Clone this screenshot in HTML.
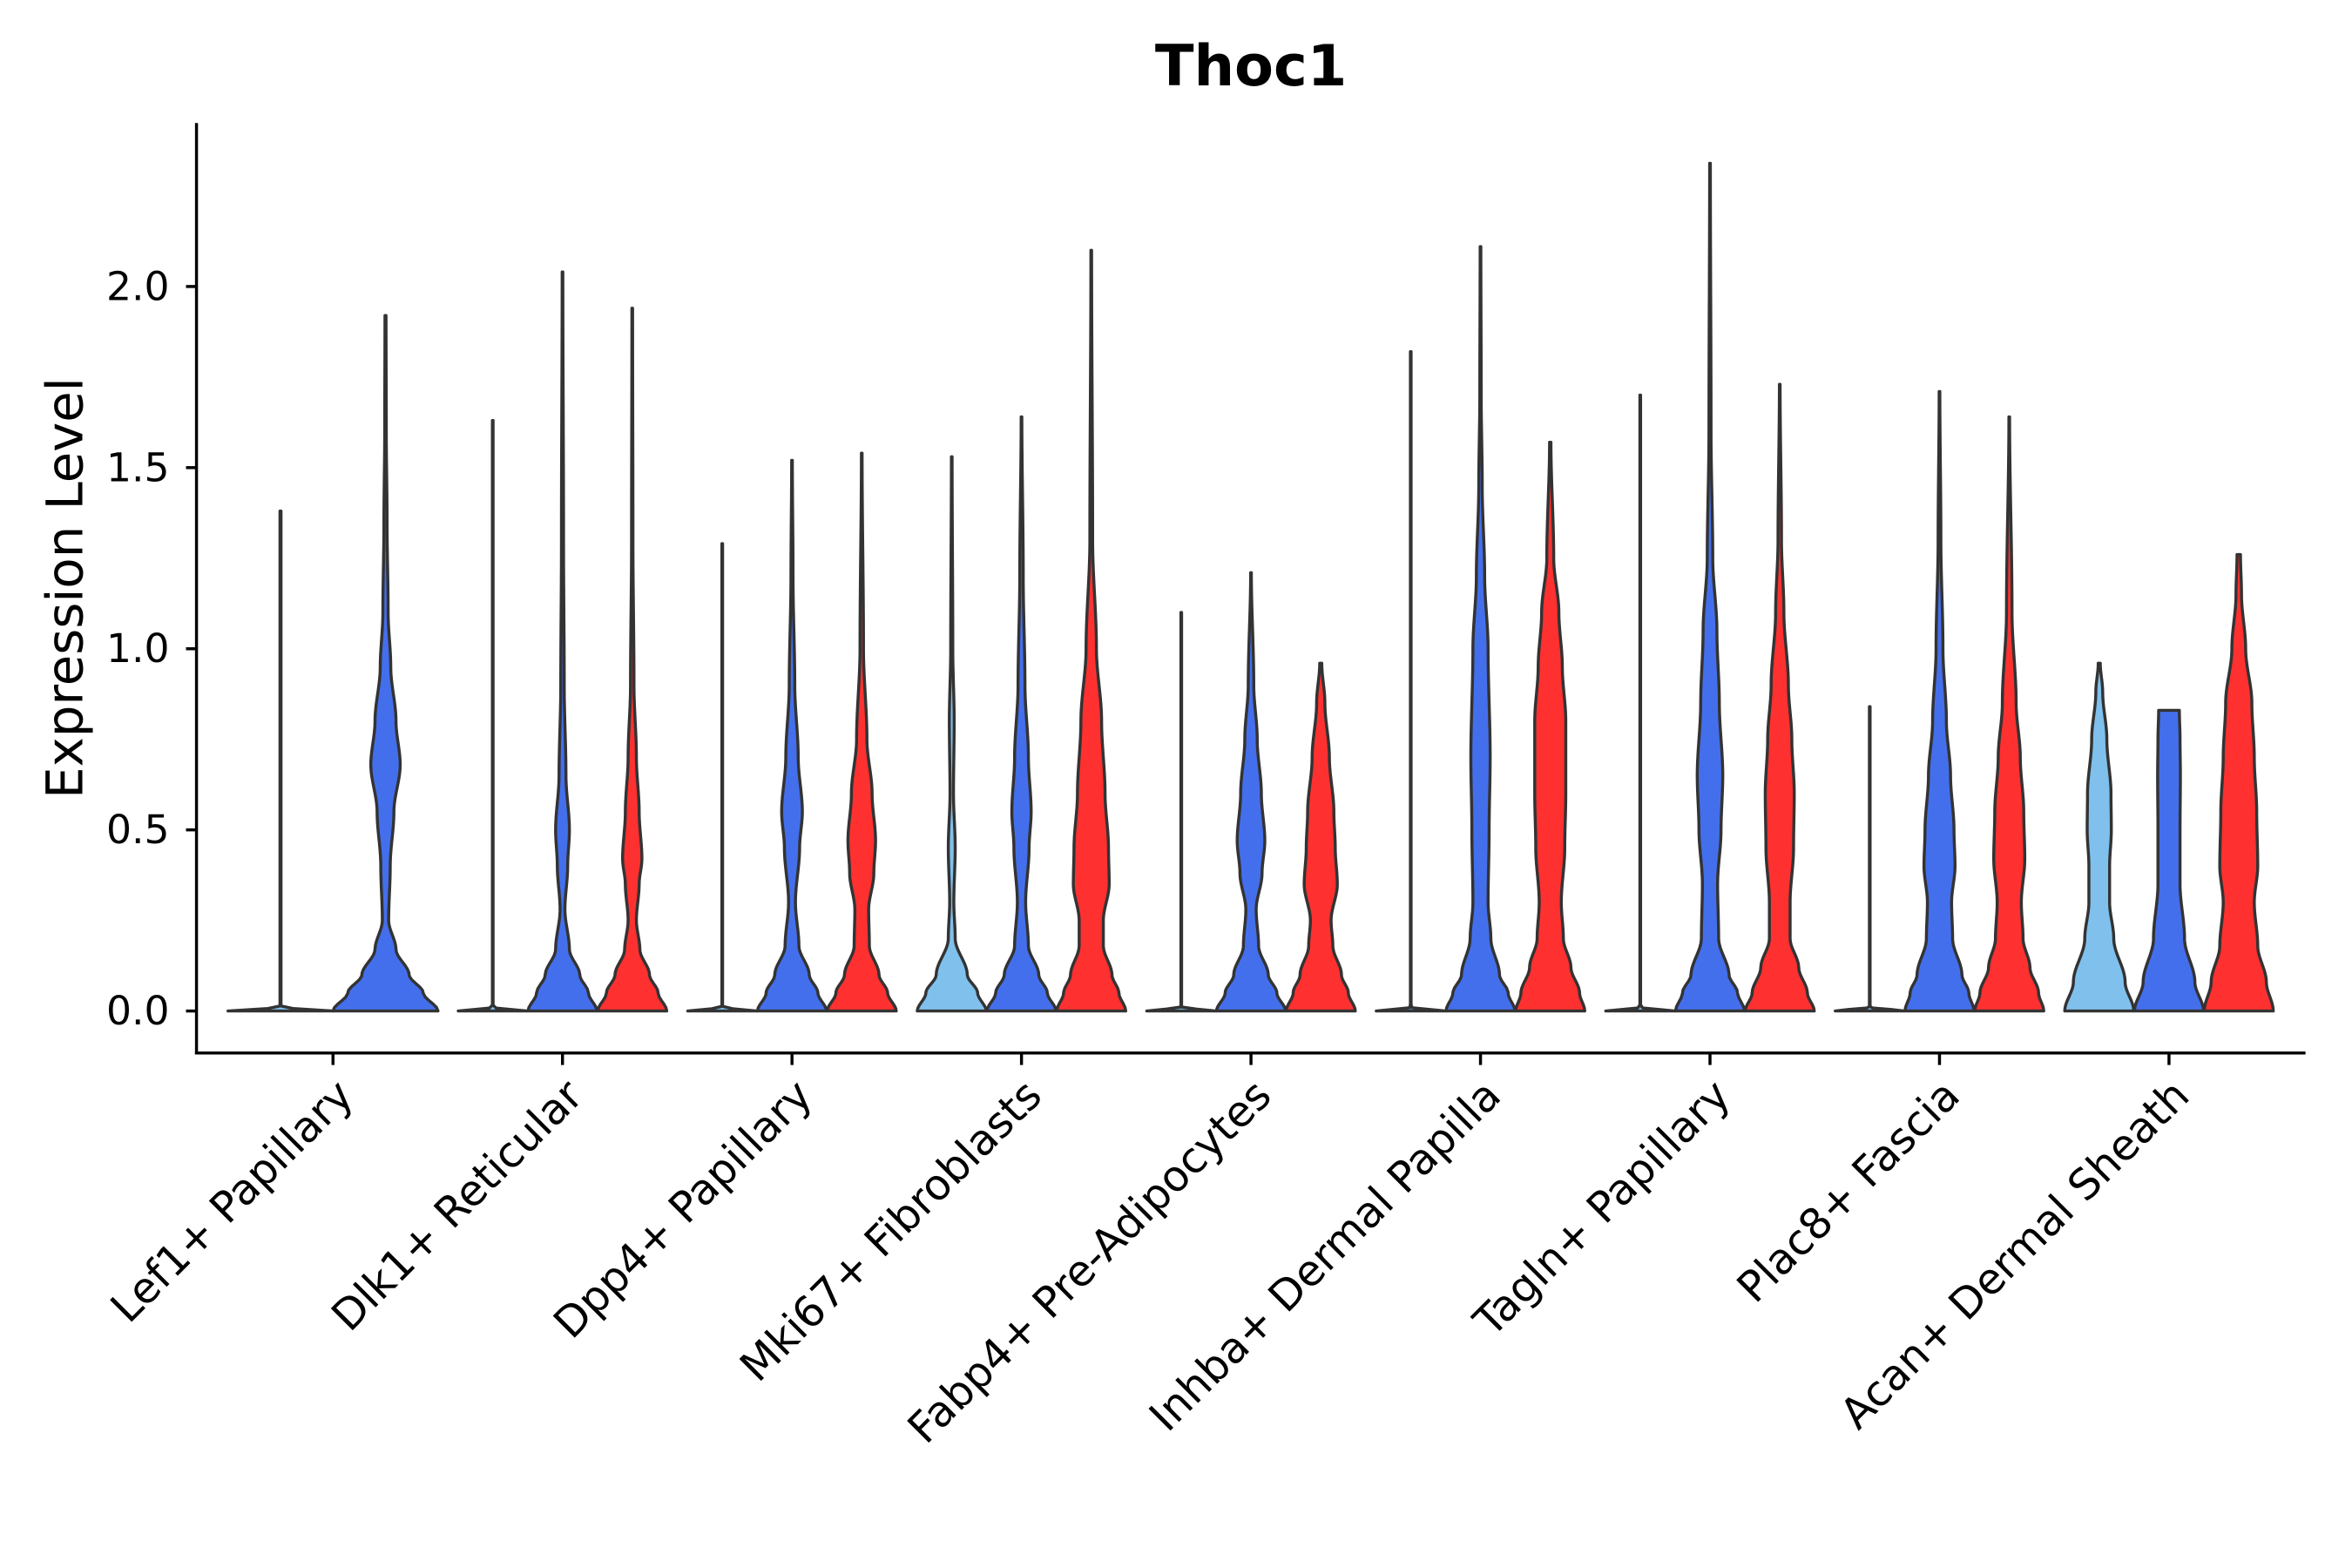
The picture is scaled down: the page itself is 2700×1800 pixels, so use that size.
<!DOCTYPE html>
<html><head><meta charset="utf-8"><style>
html,body{margin:0;padding:0;background:#fff;}
svg{display:block;font-family:"DejaVu Sans","Liberation Sans",sans-serif;}
</style></head><body>
<svg id="chart" width="2700" height="1800" viewBox="0 0 1568 1045.33" xmlns="http://www.w3.org/2000/svg">
<text x="834" y="57" text-anchor="middle" font-size="38" font-weight="bold">Thoc1</text>
<text transform="translate(55,392) rotate(-90)" text-anchor="middle" font-size="33.5">Expression Level</text>
<g id="violins"></g>
<g id="axes"></g>
</svg>
<script>
const categories = ["Lef1+ Papillary","Dlk1+ Reticular","Dpp4+ Papillary","Mki67+ Fibroblasts","Fabp4+ Pre-Adipocytes","Inhba+ Dermal Papilla","Tagln+ Papillary","Plac8+ Fascia","Acan+ Dermal Sheath"];
const yTicks = [0, 0.5, 1.0, 1.5, 2.0];
const yTickLabels = ["0.0","0.5","1.0","1.5","2.0"];
// number of violins per category
const nLevels = [2,3,3,3,3,3,3,3,3];
// each violin: [category index, slot, knots of [value, relative half-width]]
const lightViolins = [
 [0,0,[[0,1],[0.01,0.01],[1.38,0.01]]],
 [1,0,[[0,1],[0.01,0.01],[1.63,0.01]]],
 [2,0,[[0,1],[0.01,0.01],[1.29,0.01]]],
 [3,0,[[0,1],[0.05,0.75],[0.1,0.45],[0.2,0.1],[0.3,0.06],[0.45,0.1],[0.6,0.05],[0.8,0.07],[1.0,0.03],[1.53,0.01]]],
 [4,0,[[0,1],[0.01,0.01],[1.10,0.01]]],
 [5,0,[[0,1],[0.01,0.01],[1.82,0.01]]],
 [6,0,[[0,1],[0.01,0.01],[1.70,0.01]]],
 [7,0,[[0,1],[0.01,0.01],[0.84,0.01]]],
 [8,0,[[0,1],[0.08,0.75],[0.2,0.42],[0.3,0.3],[0.4,0.3],[0.5,0.35],[0.6,0.34],[0.75,0.22],[0.88,0.1],[0.96,0.03]]]
];
const blueViolins = [
 [0,1,[[0,1],[0.05,0.72],[0.1,0.45],[0.17,0.2],[0.25,0.06],[0.4,0.09],[0.55,0.16],[0.68,0.28],[0.8,0.2],[0.95,0.1],[1.1,0.05],[1.35,0.03],[1.6,0.015],[1.92,0.01]]],
 [1,1,[[0,1],[0.05,0.75],[0.1,0.5],[0.17,0.2],[0.28,0.07],[0.4,0.15],[0.5,0.2],[0.65,0.1],[0.9,0.05],[1.3,0.03],[2.04,0.01]]],
 [2,1,[[0,1],[0.05,0.75],[0.1,0.5],[0.18,0.2],[0.3,0.1],[0.45,0.22],[0.55,0.3],[0.7,0.18],[0.9,0.08],[1.2,0.03],[1.52,0.01]]],
 [3,1,[[0,1],[0.05,0.75],[0.1,0.5],[0.18,0.2],[0.3,0.12],[0.45,0.22],[0.55,0.28],[0.7,0.2],[0.9,0.1],[1.2,0.05],[1.64,0.01]]],
 [4,1,[[0,1],[0.05,0.75],[0.1,0.5],[0.18,0.22],[0.28,0.15],[0.38,0.32],[0.47,0.4],[0.6,0.3],[0.75,0.18],[0.9,0.08],[1.21,0.01]]],
 [5,1,[[0,1],[0.05,0.8],[0.1,0.55],[0.2,0.3],[0.3,0.22],[0.5,0.25],[0.7,0.28],[1.0,0.22],[1.2,0.12],[1.45,0.05],[1.7,0.02],[2.11,0.01]]],
 [6,1,[[0,1],[0.05,0.8],[0.1,0.55],[0.2,0.25],[0.35,0.22],[0.5,0.32],[0.65,0.37],[0.85,0.27],[1.05,0.2],[1.25,0.08],[1.6,0.03],[2.34,0.01]]],
 [7,1,[[0,1],[0.05,0.85],[0.1,0.65],[0.2,0.38],[0.3,0.35],[0.4,0.45],[0.5,0.42],[0.65,0.32],[0.8,0.2],[1.0,0.1],[1.3,0.04],[1.71,0.01]]],
 [8,1,[[0,1],[0.08,0.75],[0.2,0.45],[0.35,0.32],[0.5,0.32],[0.65,0.33],[0.75,0.32],[0.83,0.3]]]
];
const redViolins = [
 [1,2,[[0,1],[0.05,0.75],[0.1,0.5],[0.17,0.22],[0.25,0.12],[0.35,0.2],[0.42,0.28],[0.55,0.2],[0.7,0.12],[0.9,0.05],[1.3,0.02],[1.94,0.01]]],
 [2,2,[[0,1],[0.05,0.75],[0.1,0.5],[0.18,0.22],[0.28,0.2],[0.38,0.35],[0.47,0.4],[0.6,0.3],[0.75,0.15],[1.0,0.05],[1.54,0.01]]],
 [3,2,[[0,1],[0.05,0.8],[0.1,0.6],[0.18,0.35],[0.25,0.35],[0.35,0.52],[0.45,0.5],[0.6,0.4],[0.8,0.3],[1.0,0.15],[1.3,0.04],[2.10,0.01]]],
 [4,2,[[0,1],[0.05,0.8],[0.1,0.6],[0.18,0.35],[0.25,0.3],[0.35,0.48],[0.45,0.42],[0.55,0.38],[0.7,0.25],[0.85,0.12],[0.96,0.03]]],
 [5,2,[[0,1],[0.05,0.85],[0.12,0.6],[0.2,0.38],[0.3,0.32],[0.45,0.42],[0.6,0.45],[0.8,0.45],[0.95,0.35],[1.1,0.25],[1.25,0.1],[1.57,0.02]]],
 [6,2,[[0,1],[0.05,0.8],[0.12,0.55],[0.2,0.3],[0.3,0.3],[0.45,0.4],[0.6,0.42],[0.75,0.35],[0.9,0.25],[1.1,0.12],[1.3,0.05],[1.73,0.01]]],
 [7,2,[[0,1],[0.05,0.85],[0.12,0.6],[0.2,0.4],[0.3,0.35],[0.42,0.45],[0.55,0.42],[0.7,0.32],[0.85,0.2],[1.1,0.08],[1.64,0.01]]],
 [8,2,[[0,1],[0.08,0.8],[0.18,0.55],[0.3,0.45],[0.4,0.55],[0.55,0.52],[0.7,0.45],[0.85,0.38],[1.0,0.2],[1.15,0.08],[1.26,0.05]]]
];
const fills = {light:"#80C0ED", blue:"#446FEC", red:"#FF3030"};

const NS = "http://www.w3.org/2000/svg";
const X0 = 222, DX = 153, Y0 = 674, YPU = 241.5;
const xCat = i => X0 + i * DX;
const yVal = v => Y0 - v * YPU;
function slotGeom(ci, slot){
  const n = nLevels[ci];
  if (n === 2) return {cx: xCat(ci) + (slot === 0 ? -35 : 35), hw: 35};
  return {cx: xCat(ci) + (slot - 1) * 46.5, hw: 23};
}
function widthAt(knots, v){
  for (let k = 0; k < knots.length - 1; k++){
    const a = knots[k], b = knots[k+1];
    if (v >= a[0] && v <= b[0]){
      const t = (v - a[0]) / (b[0] - a[0] || 1);
      const s = t * t * (3 - 2 * t);
      return a[1] + (b[1] - a[1]) * s;
    }
  }
  return knots[knots.length-1][1];
}
const vg = document.getElementById('violins');
function drawViolin(rec, key){
  const ci = rec[0], slot = rec[1], knots = rec[2];
  const g = slotGeom(ci, slot);
  const vmax = knots[knots.length-1][0];
  const N = 200, right = [], left = [];
  for (let s = 0; s <= N; s++){
    const v = vmax * s / N;
    const w = widthAt(knots, v) * g.hw;
    right.push([g.cx + w, yVal(v)]);
    left.push([g.cx - w, yVal(v)]);
  }
  let d = "M" + left[0][0].toFixed(2) + "," + left[0][1].toFixed(2);
  right.forEach(p => d += "L" + p[0].toFixed(2) + "," + p[1].toFixed(2));
  left.slice().reverse().forEach(p => d += "L" + p[0].toFixed(2) + "," + p[1].toFixed(2));
  d += "Z";
  const p = document.createElementNS(NS, 'path');
  p.setAttribute('d', d);
  p.setAttribute('fill', fills[key]);
  p.setAttribute('stroke', '#333');
  p.setAttribute('stroke-width', '2');
  p.setAttribute('stroke-linejoin', 'round');
  
  
  vg.appendChild(p);
}
lightViolins.forEach(r => drawViolin(r, 'light'));
blueViolins.forEach(r => drawViolin(r, 'blue'));
redViolins.forEach(r => drawViolin(r, 'red'));

const ag = document.getElementById('axes');
function line(x1,y1,x2,y2,name){
  const l = document.createElementNS(NS,'line');
  l.setAttribute('x1',x1);l.setAttribute('y1',y1);l.setAttribute('x2',x2);l.setAttribute('y2',y2);
  l.setAttribute('stroke','#000');l.setAttribute('stroke-width','2');
  
  
  ag.appendChild(l);
}
line(131,82,131,703,'y-axis-line');
line(130,702,1537,702,'x-axis-line');
yTicks.forEach((v,i) => {
  line(124, yVal(v), 131, yVal(v), 'y-tick');
  const t = document.createElementNS(NS,'text');
  t.setAttribute('x', 113); t.setAttribute('y', yVal(v) + 9);
  t.setAttribute('text-anchor','end'); t.setAttribute('font-size','26.5');
  t.textContent = yTickLabels[i];
  
  
  ag.appendChild(t);
});
categories.forEach((c,i) => {
  const x = xCat(i);
  line(x, 702, x, 710, 'x-tick');
  const t = document.createElementNS(NS,'text');
  t.setAttribute('transform', 'translate(' + (x + 15) + ',732) rotate(-45)');
  t.setAttribute('text-anchor','end'); t.setAttribute('font-size','28.3');
  t.textContent = c;
  
  
  ag.appendChild(t);
});
</script>
</body></html>
